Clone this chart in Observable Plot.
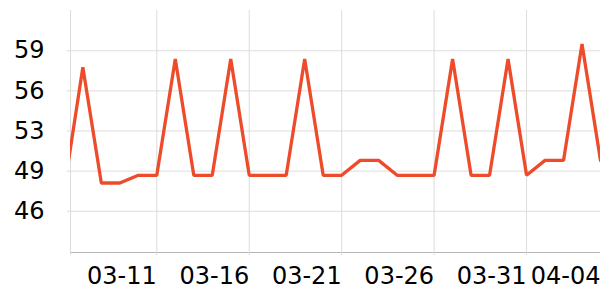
<!DOCTYPE html>
<html><head><meta charset="utf-8">
<script src="https://cdn.jsdelivr.net/npm/d3@7"></script>
<script src="https://cdn.jsdelivr.net/npm/@observablehq/plot@0.6"></script>
<style>body{margin:0;background:#fff}</style>
</head><body><div id="chart"></div>
<script>
const dates = ["2024-03-06","2024-03-07","2024-03-08","2024-03-09","2024-03-10","2024-03-11","2024-03-12","2024-03-13","2024-03-14","2024-03-15","2024-03-16","2024-03-17","2024-03-18","2024-03-19","2024-03-20","2024-03-21","2024-03-22","2024-03-23","2024-03-24","2024-03-25","2024-03-26","2024-03-27","2024-03-28","2024-03-29","2024-03-30","2024-03-31","2024-04-01","2024-04-02","2024-04-03","2024-04-04"];
const values = [47.9, 57.66, 48.29, 48.29, 48.91, 48.91, 58.33, 48.91, 48.91, 58.33, 48.91, 48.91, 48.91, 58.33, 48.91, 48.91, 50.12, 50.12, 48.91, 48.91, 48.91, 58.33, 48.91, 48.91, 58.33, 48.91, 50.12, 50.12, 59.55, 50.12];
const xTickDates = ["2024-03-06T07:58:00Z","2024-03-11","2024-03-16","2024-03-21","2024-03-26","2024-03-31","2024-04-04"];
const xTickLabels = ["","03-11","03-16","03-21","03-26","03-31","04-04"];
const yTickValues = [46, 49.25, 52.5, 55.75, 59];
const yTickLabels = ["46","49","53","56","59"];
const xDomain = ["2024-03-06T07:58:00Z","2024-04-04"];
const yDomain = [42.66, 62.26];

const data = dates.map((d, i) => ({date: new Date(d), value: values[i]}));
const xTicks = xTickDates.map(d => new Date(d));
const xLabel = new Map(xTicks.map((d, i) => [+d, xTickLabels[i]]));
const yLabel = new Map(yTickValues.map((v, i) => [v, yTickLabels[i]]));

const chart = Plot.plot({
  width: 600,
  height: 300,
  marginLeft: 70,
  marginRight: 0,
  marginTop: 10,
  marginBottom: 48,
  style: {fontSize: "24px", fontFamily: "DejaVu Sans, sans-serif", background: "#fff", color: "#000"},
  x: {type: "utc", domain: xDomain.map(d => new Date(d))},
  y: {domain: yDomain},
  marks: [
    Plot.gridY(yTickValues, {stroke: "#dcdcdc", strokeOpacity: 1}),
    Plot.gridX(xTicks, {stroke: "#dcdcdc", strokeOpacity: 1}),
    Plot.ruleY([yDomain[0]], {stroke: "#b4b4b4"}),
    Plot.axisY(yTickValues, {tickSize: 3, tickPadding: 23, stroke: "#dcdcdc", fill: "#000", tickFormat: v => yLabel.get(v), label: null}),
    Plot.axisX(xTicks, {tickSize: 3, tickPadding: 11, stroke: "#dcdcdc", fill: "#000", textAnchor: "end", tickFormat: d => xLabel.get(+d), label: null}),
    Plot.lineY(data, {x: "date", y: "value", stroke: "#ee4b2b", strokeWidth: 3.3, strokeLinejoin: "miter", clip: true})
  ]
});
document.getElementById("chart").append(chart);
</script>
</body></html>
